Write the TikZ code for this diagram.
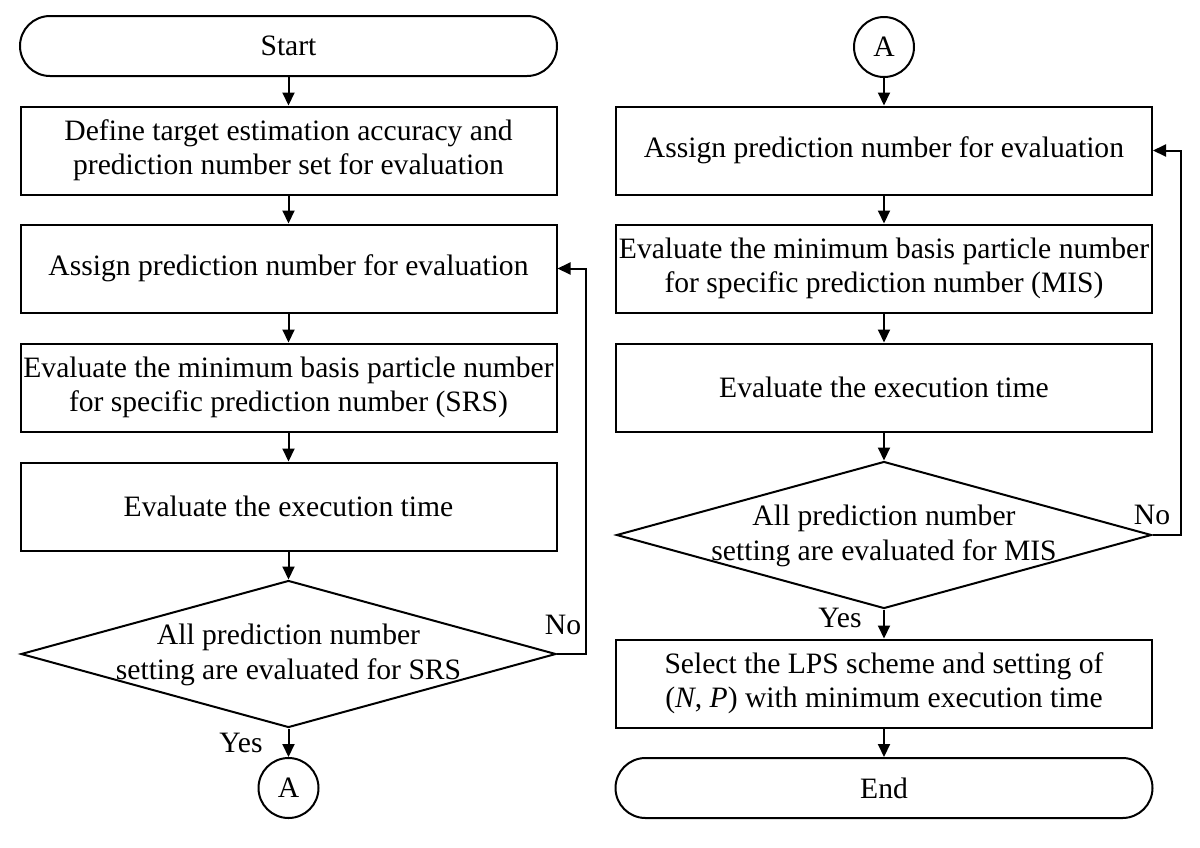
\documentclass[tikz,border=0pt]{standalone}
\usepackage{fontspec}
\setmainfont{Liberation Serif}
\usetikzlibrary{arrows.meta,shapes.geometric}
\tikzset{
  base/.style={draw=black, line width=2pt, font=\fontsize{29.6}{34}\selectfont, align=center, inner sep=0pt},
  procbox/.style={base, rectangle, minimum width=536pt, minimum height=88pt},
  term/.style={base, rectangle, rounded corners=30pt, minimum width=537pt, minimum height=60pt},
  conn/.style={base, circle, minimum size=60pt},
  dec/.style={base, diamond, minimum width=535pt, minimum height=147pt},
  dectext/.style={font=\fontsize{29.6}{35}\selectfont, align=center, inner sep=0pt},
  lbl/.style={font=\fontsize{29.6}{34}\selectfont, inner sep=0pt},
  arr/.style={line width=2pt, -{Triangle[length=13pt,width=12pt]}},
}
\begin{document}
\begin{tikzpicture}[x=1pt,y=-1pt]
\useasboundingbox (0,0) rectangle (1200,847);
% left column
\node[term] (start) at (288.5,46) {Start};
\node[procbox] (b1) at (288.5,150.5) {Define target estimation accuracy and\\prediction number set for evaluation};
\node[procbox] (b2) at (288.5,268.5) {Assign prediction number for evaluation};
\node[procbox] (b3) at (288.5,387.5) {Evaluate the minimum basis particle number\\for specific prediction number (SRS)};
\node[procbox] (b4) at (288.5,506.5) {Evaluate the execution time};
\node[dec] (d1) at (288.5,654) {};
\node[dectext] (d1t) at (288.5,655) {All prediction number\\setting are evaluated for SRS};
\node[conn] (a1) at (288.5,788) {A};
\coordinate (f1) at (586,654);
% right column
\node[conn] (a2) at (884,47) {A};
\node[procbox] (r1) at (884,150.5) {Assign prediction number for evaluation};
\node[procbox] (r2) at (884,268.5) {Evaluate the minimum basis particle number\\for specific prediction number (MIS)};
\node[procbox] (r3) at (884,387.5) {Evaluate the execution time};
\node[dec] (d2) at (884,535) {};
\node[dectext] (d2t) at (884,536) {All prediction number\\setting are evaluated for MIS};
\node[procbox] (r4) at (884,683.5) {Select the LPS scheme and setting of\\(\textit{N}, \textit{P}) with minimum execution time};
\node[term] (end) at (884,788) {End};
\coordinate (f2) at (1181,535);
% connectors left
\draw[arr] (start) -- (b1);
\draw[arr] (b1) -- (b2);
\draw[arr] (b2) -- (b3);
\draw[arr] (b3) -- (b4);
\draw[arr] (b4) -- (d1);
\draw[arr] (d1) -- (a1);
\draw[arr] (d1.east) -- (f1) |- (b2.east);
% connectors right
\draw[arr] (a2) -- (r1);
\draw[arr] (r1) -- (r2);
\draw[arr] (r2) -- (r3);
\draw[arr] (r3) -- (d2);
\draw[arr] (d2) -- (r4);
\draw[arr] (r4) -- (end);
\draw[arr] (d2.east) -- (f2) |- (r1.east);
% labels
\node[lbl] (no1) at (563,625) {No};
\node[lbl] (yes1) at (241,743) {Yes};
\node[lbl] (no2) at (1152,515) {No};
\node[lbl] (yes2) at (840,618) {Yes};
\end{tikzpicture}
\end{document}
